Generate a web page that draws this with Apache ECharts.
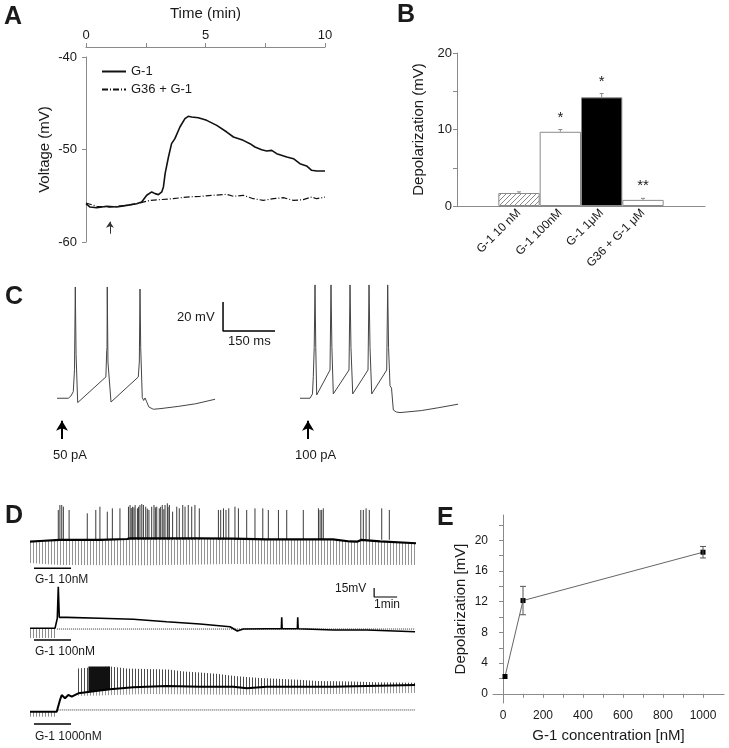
<!DOCTYPE html>
<html>
<head>
<meta charset="utf-8">
<script src="https://cdn.jsdelivr.net/npm/echarts@6/dist/echarts.min.js"></script>
<style>
  html, body { margin: 0; padding: 0; background: #fff; }
  #chart { width: 729px; height: 748px; }
</style>
</head>
<body>
<div id="chart"></div>
<script>
// ---- A: membrane potential over time (min, mV)
const g1Trace = [[0,-55.86],[0.17,-56.22],[0.45,-56.29],[0.87,-56.14],[1.28,-56.22],[1.70,-56.04],[2.12,-55.86],
  [2.33,-55.68],[2.54,-54.95],[2.75,-54.59],[2.89,-54.77],[3.03,-54.88],[3.17,-54.59],[3.24,-54.05],[3.31,-52.61],
  [3.45,-50.81],[3.58,-49.37],[3.72,-48.83],[3.93,-47.57],[4.14,-46.67],[4.28,-46.41],[4.42,-46.49],[4.70,-46.56],
  [5.05,-46.85],[5.47,-47.39],[5.89,-48.11],[6.17,-48.65],[6.58,-49.01],[6.86,-49.37],[7.07,-49.73],[7.35,-50.02],
  [7.56,-50.16],[7.77,-50.09],[7.98,-50.45],[8.40,-50.81],[8.68,-50.99],[8.95,-51.53],[9.23,-51.78],[9.44,-52.25],
  [9.65,-52.32],[10,-52.32]];
const g36Trace = [[0,-55.78],[0.45,-56.14],[1.00,-56.22],[1.70,-56.04],[2.26,-55.78],[2.68,-55.5],[3.10,-55.42],
  [3.65,-55.32],[4.21,-55.14],[4.77,-55.06],[5.33,-54.95],[5.89,-54.85],[6.17,-55.06],[6.58,-54.95],[7.00,-55.32],
  [7.42,-55.5],[7.84,-55.32],[8.26,-55.21],[8.68,-55.5],[9.09,-55.42],[9.44,-55.14],[9.65,-55.32],[10,-55.14]];
const aApplied = 1.0;

// ---- B: depolarization bars (mV)
const bCategories = ['', 'G-1 10 nM', 'G-1 100nM', 'G-1 1μM', 'G36 + G-1 μM', ''];
const bValues = [1.7, 9.7, 14.2, 0.8];
const bErrors = [0.15, 0.3, 0.5, 0.2];
const bStars = ['', '*', '*', '**'];

// ---- C: current clamp traces (ms, mV)
const c50pA = [[0,-65],[32.6,-65],[40,-63.5],[47,-60.4],[50.5,-45],[52.8,11.8],[55,-35],[59.7,-68],[64,-66.8],
  [141,-50.3],[143.5,-32],[144.3,-30],[145,11.8],[147,-40],[155.8,-67.6],[160,-66.5],[234.5,-50.3],[237.5,-40],
  [239.5,10.4],[241.5,-30],[246,-64.5],[250,-66.5],[254,-64.8],[258,-67],[265,-71],[278,-72.6],[300,-72.1],
  [350,-70.6],[400,-68.8],[456,-65.7]];
const c100pA = [[0,-65],[28.9,-65],[36,-62],[38.4,-50.1],[41,-30],[43.3,13.2],[45.5,-30],[48.2,-62.7],[52,-61.5],
  [86.6,-45.5],[89.4,13.2],[92,-30],[96.1,-62],[100,-61],[141.4,-45.5],[144.3,13.2],[147,-30],[152.1,-62],[156,-61],
  [196.2,-45.5],[199.1,13.2],[202,-30],[206.9,-62],[211,-61],[250.1,-45.5],[253,13.2],[255.5,-30],[259.7,-56.3],
  [264,-58],[269.2,-73.1],[278,-74.5],[288.5,-74.9],[350,-73.5],[400,-71.5],[456,-69.1]];
const cStimOnset = [14.4, 23.1];
const cStimLabels = ['50 pA', '100 pA'];

// ---- D: long recordings (min, mV)
const d1Baseline = [[0,-60.2],[0.43,-59],[1.3,-57.3],[3.04,-57.3],[4.22,-55.7],[4.35,-54.5],[7.39,-54.5],[8.83,-55.2],
  [10.26,-56.2],[13.17,-56.2],[13.91,-59.8],[14.22,-60.2],[14.39,-57.3],[15.22,-59.8],[16.78,-62.8]];
const d1Lower = [[0,-95.7],[1.3,-99],[5,-99.5],[9,-97.5],[12,-98.5],[16.78,-99]];
const d1Spikes = [[1.23,-7.3],[1.30,1.0],[1.38,1.0],[1.45,-1.8],[1.70,-7.3],[2.49,-12.9],[2.86,-7.3],[3.04,-1.8],
  [3.36,-10.1],[3.58,-4.6],[3.91,-4.6],[4.28,-1.8],[4.35,1.0],[4.40,-4],[4.46,-1.8],[4.52,-3],[4.57,1.0],[4.67,-4.6],
  [4.72,-2],[4.78,1.0],[4.86,2.7],[4.93,1.0],[5.03,-1.8],[5.10,-5],[5.17,-7.3],[5.29,-1.8],[5.39,1.0],[5.45,-3],
  [5.51,-1.8],[5.62,-4.6],[5.68,-2],[5.75,1.0],[5.82,-6],[5.87,1.0],[5.97,3.8],[6.00,-2],[6.06,1.0],[6.20,-10.1],
  [6.38,-1.8],[6.49,-4.6],[6.64,1.0],[6.74,-1.8],[6.88,1.0],[7.03,-1.8],[7.17,1.0],[7.36,-4.6],[8.19,-7.3],[8.29,-7.3],
  [8.41,-4.6],[8.52,-7.3],[8.64,-4.6],[8.91,-1.8],[9.06,-4.6],[9.42,-7.3],[9.78,-4.6],[10.12,-4.6],[10.36,-7.3],
  [10.80,-7.3],[11.16,-7.3],[11.88,-7.3],[12.54,-4.6],[12.61,-7.3],[12.68,-7.3],[12.75,-4.6],[14.38,-7.3],[14.49,-7.3],
  [14.61,-4.6],[14.75,-7.3],[15.29,-4.6],[15.62,-7.3]];
const d2Trace = [[0,-60.5],[1.087,-60.5],[1.187,-43.8],[1.230,8.8],[1.274,-42.2],[1.596,-42.2],[3.043,-43.8],
  [4.491,-45.5],[5.943,-49.5],[7.391,-53.3],[8.696,-57.8],[9.013,-65],[9.274,-61.7],[10.291,-61.2],[10.926,-61.2],
  [10.943,-42.2],[10.961,-61.2],[11.622,-61.2],[11.639,-42.2],[11.657,-61.2],[13.187,-63.3],[14.639,-63.3],[16.739,-66.2]];
const d2PreUpper = [[0,-60.5],[1.09,-60.5]];
const d2PreLower = [[0,-76.7],[1.09,-76.7]];
const d2Rest = -61.7;
const d3Mean = [[0,-81.2],[1.161,-81.2],[1.304,-61.7],[1.378,-53.3],[1.522,-58.8],[1.665,-53.3],[1.813,-56.2],
  [2.1,-50.5],[2.609,-47.8],[3.478,-43.8],[4.491,-40.5],[5.943,-38.3],[7.391,-39.5],[8.839,-39.5],[9.422,-42.2],
  [10.291,-39.5],[11.739,-39.5],[13.187,-39.5],[14.639,-38.3],[16.739,-36.7]];
const d3Upper = [[2.03,-50],[2.06,-9],[2.5,-8],[3.5,-6],[4.2,-9],[5.0,-10],[6.0,-11],[6.7,-14],[7.4,-16],[8.1,-18],
  [9.0,-22],[10.0,-25],[11.7,-28],[12.5,-30],[14.0,-31],[15.0,-32],[16.739,-33]];
const d3Lower = [[2.1,-55],[3.0,-54],[5.0,-51.7],[9.0,-53],[12.0,-52],[16.739,-50]];
const d3BurstUpper = [[2.54,-6],[3.48,-6]];
const d3BurstLower = [[2.54,-48.5],[3.48,-44.5]];
const d3PreUpper = [[0,-81.2],[1.16,-81.2]];
const d3PreLower = [[0,-89.5],[1.16,-89.5]];
const d3Rest = -78.3;
const dStim = [0.174, 1.783];

// ---- E: dose response
const eConc = [10, 100, 1000];
const eDepol = [2.25, 12.15, 18.45];
const eErr = [0, 1.85, 0.75];

const FONT = 'Liberation Sans, Arial, sans-serif';
const AX = '#8a8a8a';
const TXT = '#1a1a1a';

function stripes(period, color) {
  const c = document.createElement('canvas');
  c.width = period; c.height = 4;
  const g = c.getContext('2d');
  g.fillStyle = color;
  g.fillRect(0, 0, 1, 4);
  return { image: c, repeat: 'repeat' };
}
function hatch() {
  const c = document.createElement('canvas');
  c.width = 5; c.height = 5;
  const g = c.getContext('2d');
  g.fillStyle = '#fff'; g.fillRect(0, 0, 5, 5);
  g.fillStyle = '#8a8a8a';
  for (let i = 0; i < 5; i++) g.fillRect(i, 4 - i, 1, 1);
  return { image: c, repeat: 'repeat' };
}

// filled region between two polylines
function band(idx, upper, lower, fill, z) {
  return {
    type: 'custom', xAxisIndex: idx, yAxisIndex: idx, silent: true, z: z || 2,
    data: [[upper[0][0], upper[0][1]]],
    renderItem: (p, api) => ({
      type: 'polygon',
      shape: { points: upper.concat(lower.slice().reverse()).map(d => api.coord(d)) },
      style: { fill: fill }
    })
  };
}
function trace(idx, data, color, width, extra) {
  return Object.assign({
    type: 'line', xAxisIndex: idx, yAxisIndex: idx, data: data, symbol: 'none', silent: true,
    clip: false, animation: false, itemStyle: { color: color }, lineStyle: { color: color, width: width }
  }, extra || {});
}
function hidden(idx, grid, xmin, xmax, ymin, ymax) {
  return [
    { gridIndex: grid, type: 'value', min: xmin, max: xmax, show: false },
    { gridIndex: grid, type: 'value', min: ymin, max: ymax, show: false }
  ];
}

const grids = [
  { left: 86, top: 57, width: 239, height: 185 },   // A
  { left: 457, top: 53, width: 248, height: 153 },  // B
  { left: 57, top: 280, width: 240, height: 165 },  // C left
  { left: 300, top: 280, width: 158, height: 165 }, // C right
  { left: 30, top: 490, width: 386, height: 85 },   // D1
  { left: 30, top: 580, width: 386, height: 62 },   // D2
  { left: 30, top: 645, width: 386, height: 82 },   // D3
  { left: 493, top: 515, width: 231, height: 188 }  // E
].map(g => Object.assign({ outerBoundsMode: 'none' }, g));

const axLine = { lineStyle: { color: AX, width: 1 } };
const axTick = { length: 4, lineStyle: { color: AX } };
const xAxes = [
  { gridIndex: 0, type: 'value', position: 'top', offset: 10, min: 0, max: 10, interval: 2.5,
    name: 'Time (min)', nameLocation: 'middle', nameGap: 26,
    nameTextStyle: { fontSize: 15, color: TXT, fontFamily: FONT },
    axisLine: axLine, axisTick: axTick, splitLine: { show: false },
    axisLabel: { fontSize: 13, color: TXT, fontFamily: FONT, margin: 5, formatter: v => (v % 5 === 0 ? v : '') } },
  { gridIndex: 1, type: 'category', data: bCategories, axisLine: axLine, axisTick: { show: false },
    axisLabel: { rotate: 45, interval: 0, fontSize: 12, color: TXT, fontFamily: FONT, margin: 5 } },
  hidden(2, 2, 0, 692.4)[0], hidden(3, 3, 0, 455.8)[0],
  hidden(4, 4, 0, 16.78)[0], hidden(5, 5, 0, 16.78)[0], hidden(6, 6, 0, 16.78)[0],
  { gridIndex: 7, type: 'value', min: -50, max: 1105, axisLine: axLine, splitLine: { show: false },
    axisTick: Object.assign({ customValues: [0,100,200,300,400,500,600,700,800,900,1000] }, axTick),
    axisLabel: { customValues: [0,200,400,600,800,1000], fontSize: 12, color: TXT, fontFamily: FONT, margin: 7,
      formatter: v => String(v) },
    name: 'G-1 concentration [nM]', nameLocation: 'middle', nameGap: 25,
    nameTextStyle: { fontSize: 15, color: TXT, fontFamily: FONT } }
];
const yAxes = [
  { gridIndex: 0, type: 'value', min: -60, max: -40, interval: 10, offset: 4,
    name: 'Voltage (mV)', nameLocation: 'middle', nameGap: 30,
    nameTextStyle: { fontSize: 15, color: TXT, fontFamily: FONT },
    axisLine: { show: true, lineStyle: { color: AX } }, axisTick: { show: true, length: 4, lineStyle: { color: AX } },
    splitLine: { show: false }, axisLabel: { fontSize: 13, color: TXT, fontFamily: FONT, margin: 5 } },
  { gridIndex: 1, type: 'value', min: 0, max: 20, interval: 5,
    name: 'Depolarization (mV)', nameLocation: 'middle', nameGap: 31,
    nameTextStyle: { fontSize: 15, color: TXT, fontFamily: FONT },
    axisLine: { show: true, lineStyle: { color: AX } }, axisTick: { show: true, length: 4, lineStyle: { color: AX } },
    splitLine: { show: false },
    axisLabel: { fontSize: 13, color: TXT, fontFamily: FONT, margin: 5, formatter: v => (v % 10 === 0 ? v : '') } },
  hidden(2, 2, 0, 1, -97.25, 16.6)[1], hidden(3, 3, 0, 1, -97.25, 16.6)[1],
  hidden(4, 4, 0, 1, -115.7, 26)[1], hidden(5, 5, 0, 1, -83.3, 20)[1], hidden(6, 6, 0, 1, -106.7, 30)[1],
  { gridIndex: 7, type: 'value', min: -1.2, max: 23.3,
    axisLine: { show: true, lineStyle: { color: AX } }, splitLine: { show: false },
    axisTick: { show: true, length: 4, lineStyle: { color: AX }, customValues: [0,2,4,6,8,10,12,14,16,18,20,22] },
    axisLabel: { customValues: [0,4,8,12,16,20], fontSize: 12, color: TXT, fontFamily: FONT, margin: 5 },
    name: 'Depolarization [mV]', nameLocation: 'middle', nameGap: 25,
    nameTextStyle: { fontSize: 15, color: TXT, fontFamily: FONT } }
];

const barFills = [hatch(), '#fff', '#000', '#fff'];
const series = [
  // A
  trace(0, g1Trace, '#111', 1.6, { name: 'G-1',
    markLine: { silent: true, symbol: ['none', 'arrow'], symbolSize: 6, animation: false, label: { show: false },
      lineStyle: { color: '#333', width: 1, type: 'solid' },
      data: [[{ coord: [aApplied, -59.1] }, { coord: [aApplied, -57.8] }]] } }),
  trace(0, g36Trace, '#111', 1.2, { name: 'G36 + G-1', lineStyle: { color: '#111', width: 1.2, type: [6, 2, 1, 2] } }),
  // B
  { type: 'bar', xAxisIndex: 1, yAxisIndex: 1, barWidth: '100%', silent: true, animation: false,
    data: ['-'].concat(bValues.map((v, i) => ({ value: v, itemStyle: { color: barFills[i], borderColor: '#8a8a8a', borderWidth: 1 } }))).concat(['-']) },
  { type: 'custom', xAxisIndex: 1, yAxisIndex: 1, silent: true, animation: false, z: 5,
    data: bValues.map((v, i) => [i + 1, v, bErrors[i], i]),
    renderItem: (p, api) => {
      const i = api.value(3);
      const a = api.coord([api.value(0), api.value(1)]);
      const b = api.coord([api.value(0), api.value(1) + api.value(2)]);
      return { type: 'group', children: [
        { type: 'line', shape: { x1: a[0], y1: a[1], x2: b[0], y2: b[1] }, style: { stroke: '#8a8a8a', lineWidth: 1 } },
        { type: 'line', shape: { x1: b[0] - 2, y1: b[1], x2: b[0] + 2, y2: b[1] }, style: { stroke: '#8a8a8a', lineWidth: 1 } },
        { type: 'text', x: b[0], y: b[1] - 12, style: { text: bStars[i], align: 'center', verticalAlign: 'middle',
          font: '15px ' + FONT, fill: TXT } }
      ] };
    } },
  // C
  trace(2, c50pA, '#444', 1, {
    markLine: { silent: true, symbol: ['none', 'arrow'], symbolSize: [9, 10], animation: false, label: { show: false },
      lineStyle: { color: '#000', width: 2, type: 'solid' },
      data: [[{ coord: [cStimOnset[0], -93.1] }, { coord: [cStimOnset[0], -80.5] }]] } }),
  trace(3, c100pA, '#444', 1, {
    markLine: { silent: true, symbol: ['none', 'arrow'], symbolSize: [9, 10], animation: false, label: { show: false },
      lineStyle: { color: '#000', width: 2, type: 'solid' },
      data: [[{ coord: [cStimOnset[1], -93.1] }, { coord: [cStimOnset[1], -80.5] }]] } }),
  trace(2, [[479, 1.4], [479, -18.6], [629, -18.6]], '#000', 1.5),
  // D1
  band(4, d1Baseline, d1Lower, stripes(3, '#939393'), 2),
  { type: 'custom', xAxisIndex: 4, yAxisIndex: 4, silent: true, animation: false, z: 3, data: d1Spikes,
    renderItem: (p, api) => {
      const a = api.coord([api.value(0), -57]);
      const b = api.coord([api.value(0), api.value(1)]);
      return { type: 'line', shape: { x1: a[0], y1: a[1], x2: b[0], y2: b[1] }, style: { stroke: '#3a3a3a', lineWidth: 1 } };
    } },
  trace(4, d1Baseline, '#000', 2.2, { z: 4 }),
  trace(4, [[dStim[0], -104.5], [dStim[1], -104.5]], '#000', 1.5),
  // D2
  band(5, d2PreUpper, d2PreLower, stripes(3, '#8c8c8c'), 2),
  trace(5, [[1.17, d2Rest], [16.739, d2Rest]], '#333', 1, { lineStyle: { color: '#333', width: 1, type: [1, 1] } }),
  trace(5, d2Trace, '#000', 1.6, { z: 4 }),
  trace(5, [[dStim[0], -80], [dStim[1], -80]], '#000', 1.5),
  trace(5, [[14.96, 6.7], [14.96, -8.3], [15.96, -8.3]], '#000', 1.2),
  // D3
  band(6, d3PreUpper, d3PreLower, stripes(3, '#8c8c8c'), 2),
  band(6, d3Upper, d3Mean.filter(d => d[0] >= 2.03), stripes(3, '#4a4a4a'), 2),
  band(6, d3Mean.filter(d => d[0] >= 2.03), d3Lower, stripes(3, '#999'), 2),
  band(6, d3BurstUpper, d3BurstLower, '#111', 3),
  trace(6, [[1.23, d3Rest], [16.739, d3Rest]], '#333', 1, { lineStyle: { color: '#333', width: 1, type: [1, 1] } }),
  trace(6, d3Mean, '#000', 2, { z: 4 }),
  trace(6, [[dStim[0], -101.7], [dStim[1], -101.7]], '#000', 1.5),
  // E
  { type: 'line', xAxisIndex: 7, yAxisIndex: 7, data: eConc.map((c, i) => [c, eDepol[i]]), silent: true, animation: false,
    symbol: 'rect', symbolSize: 5, itemStyle: { color: '#000' }, lineStyle: { color: '#666', width: 1 }, z: 3 },
  { type: 'custom', xAxisIndex: 7, yAxisIndex: 7, silent: true, animation: false, z: 4,
    data: eConc.map((c, i) => [c, eDepol[i], eErr[i]]),
    renderItem: (p, api) => {
      if (!api.value(2)) return null;
      const lo = api.coord([api.value(0), api.value(1) - api.value(2)]);
      const hi = api.coord([api.value(0), api.value(1) + api.value(2)]);
      const st = { stroke: '#555', lineWidth: 1 };
      return { type: 'group', children: [
        { type: 'line', shape: { x1: lo[0], y1: lo[1], x2: hi[0], y2: hi[1] }, style: st },
        { type: 'line', shape: { x1: lo[0] - 3, y1: lo[1], x2: lo[0] + 3, y2: lo[1] }, style: st },
        { type: 'line', shape: { x1: hi[0] - 3, y1: hi[1], x2: hi[0] + 3, y2: hi[1] }, style: st }
      ] };
    } }
];

function txt(left, top, text, size, bold) {
  return { type: 'text', left: left, top: top, silent: true,
    style: { text: text, fill: TXT, font: (bold ? 'bold ' : '') + size + 'px ' + FONT } };
}

const chart = echarts.init(document.getElementById('chart'), null, { renderer: 'canvas' });
chart.setOption({
  animation: false,
  backgroundColor: '#fff',
  grid: grids,
  xAxis: xAxes,
  yAxis: yAxes,
  legend: {
    data: ['G-1', 'G36 + G-1'], left: 96, top: 60, orient: 'vertical', itemWidth: 24, itemHeight: 12, itemGap: 5,
    selectedMode: false, itemStyle: { opacity: 0 },
    textStyle: { fontSize: 13, color: TXT, fontFamily: FONT }
  },
  series: series,
  graphic: [
    txt(4, 5, 'A', 25, true), txt(397, 3, 'B', 25, true), txt(5, 285, 'C', 25, true),
    txt(5, 504, 'D', 25, true), txt(437, 506, 'E', 25, true),
    txt(177, 311, '20 mV', 13), txt(228, 335, '150 ms', 13),
    txt(53, 449, cStimLabels[0], 13), txt(295, 449, cStimLabels[1], 13),
    txt(335, 583, '15mV', 12), txt(374, 599, '1min', 12),
    txt(35, 574, 'G-1 10nM', 12), txt(35, 646, 'G-1 100nM', 12), txt(35, 731, 'G-1 1000nM', 12)
  ]
});
</script>
</body>
</html>
